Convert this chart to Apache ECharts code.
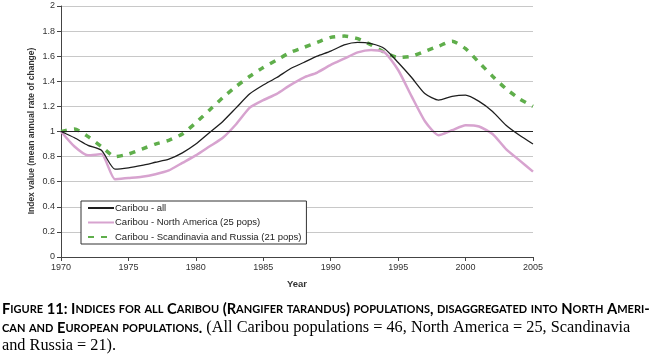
<!DOCTYPE html>
<html><head><meta charset="utf-8">
<script src="https://cdn.jsdelivr.net/npm/echarts@6/dist/echarts.min.js"></script>
<style>html,body{margin:0;padding:0;background:#fff}#c{width:653px;height:357px}</style>
</head><body><div id="c"></div>
<script>
const years = [1970,1971,1972,1973,1974,1975,1976,1977,1978,1979,1980,1981,1982,1983,1984,1985,1986,1987,1988,1989,1990,1991,1992,1993,1994,1995,1996,1997,1998,1999,2000,2001,2002,2003,2004,2005];
const caribouAll = [1.0,0.95,0.89,0.85,0.70,0.71,0.73,0.755,0.78,0.83,0.90,0.99,1.08,1.19,1.30,1.37,1.43,1.50,1.55,1.60,1.64,1.69,1.71,1.70,1.66,1.55,1.43,1.30,1.25,1.28,1.29,1.24,1.16,1.05,0.97,0.90];
const caribouNA = [1.0,0.88,0.81,0.82,0.62,0.63,0.64,0.66,0.69,0.75,0.81,0.88,0.95,1.06,1.19,1.25,1.30,1.37,1.43,1.47,1.53,1.58,1.63,1.65,1.63,1.49,1.28,1.08,0.97,1.01,1.05,1.04,0.98,0.86,0.77,0.68];
const caribouSR = [1.0,1.02,0.96,0.88,0.80,0.82,0.86,0.90,0.93,0.98,1.07,1.17,1.27,1.36,1.44,1.51,1.57,1.63,1.67,1.71,1.75,1.76,1.74,1.69,1.63,1.59,1.60,1.64,1.68,1.72,1.66,1.55,1.44,1.34,1.26,1.20];
const seriesNames = ['Caribou - all','Caribou - North America (25 pops)','Caribou - Scandinavia and Russia (21 pops)'];
const xTitle = 'Year';
const yTitle = 'Index value (mean annual rate of change)';
const capLine1 = 'Figure 11: Indices for all Caribou (Rangifer tarandus) populations, disaggregated into North Ameri-';
const capLine2a = 'can and European populations.';
const capLine2b = ' (All Caribou populations = 46, North America = 25, Scandinavia';
const capLine3 = 'and Russia = 21).';

function pairs(v){ return years.map((y,i)=>[y,v[i]]); }
function smallCaps(s){
  let out='', cur=null, buf='';
  for (const ch of s){
    const isLower = ch !== ch.toUpperCase();
    const t = isLower ? 'sm' : 'bg';
    const c = isLower ? ch.toUpperCase() : ch;
    if (t!==cur){ if(buf) out += '{'+cur+'|'+buf+'}'; buf=''; cur=t; }
    buf += c;
  }
  if(buf) out += '{'+cur+'|'+buf+'}';
  return out;
}
const capRich = {
  bg:{fontFamily:'Lato',fontWeight:'bold',fontSize:14.7,color:'#231f20',lineHeight:18},
  sm:{fontFamily:'Lato',fontWeight:'bold',fontSize:11,color:'#231f20',lineHeight:18},
  sf:{fontFamily:'Liberation Serif',fontSize:16.3,color:'#231f20',lineHeight:18}
};

const chart = echarts.init(document.getElementById('c'), null, {renderer:'canvas'});
const axisFont = {fontFamily:'Liberation Sans', fontSize:9, color:'#333'};
chart.setOption({
  animation:false,
  grid:{left:61,right:120,top:6,bottom:100},
  legend:{
    orient:'vertical', left:81, top:201, padding:[2,5,2,6],
    borderColor:'#333', borderWidth:1, backgroundColor:'#fff',
    itemWidth:26, itemHeight:10, itemGap:4.5,
    itemStyle:{opacity:0},
    textStyle:{fontFamily:'Liberation Sans', fontSize:9.5, color:'#222', padding:[0,0,0,-4]},
    data:seriesNames
  },
  xAxis:{
    type:'value', min:1970, max:2005, interval:5,
    name:xTitle, nameLocation:'middle', nameGap:22,
    nameTextStyle:{fontFamily:'Liberation Sans', fontSize:9.5, fontWeight:'bold', color:'#333'},
    axisLine:{lineStyle:{color:'#444',width:1}},
    axisTick:{show:true,length:4,lineStyle:{color:'#444'}},
    axisLabel:Object.assign({margin:6, formatter:v=>String(v)}, axisFont),
    splitLine:{show:false}
  },
  yAxis:{
    type:'value', min:0, max:2, interval:0.2,
    axisLine:{show:true,lineStyle:{color:'#444',width:1}},
    axisTick:{show:true,length:4,lineStyle:{color:'#444'}},
    axisLabel:Object.assign({margin:6, formatter:v=>String(Math.round(v*10)/10)}, axisFont),
    splitLine:{show:true,lineStyle:{color:'#c8c8c8',width:1}}
  },
  series:[
    {name:seriesNames[0], type:'line', data:pairs(caribouAll), symbol:'none', smooth:0.2,
     lineStyle:{color:'#1e1e1e',width:1.3}, itemStyle:{color:'#1e1e1e'}, z:4,
     markLine:{silent:true, symbol:'none', label:{show:false}, lineStyle:{color:'#222',type:'solid',width:1}, data:[{yAxis:1}]}},
    {name:seriesNames[1], type:'line', data:pairs(caribouNA), symbol:'none', smooth:0.2,
     lineStyle:{color:'#d7a3cf',width:2.5}, itemStyle:{color:'#d7a3cf'}, z:3},
    {name:seriesNames[2], type:'line', data:pairs(caribouSR), symbol:'none', smooth:0.2,
     lineStyle:{color:'#5fae4b',width:3.5,type:[6,7]}, itemStyle:{color:'#5fae4b'}, z:2}
  ],
  graphic:[
    {type:'text', x:32, y:131, rotation:Math.PI/2,
     style:{text:yTitle, fontFamily:'Liberation Sans', fontSize:8.5, fontWeight:'bold', fill:'#333', align:'center', verticalAlign:'middle'}},
    {type:'text', left:2, top:302, style:{text:smallCaps(capLine1), rich:capRich}},
    {type:'text', left:2, top:320, style:{text:smallCaps(capLine2a)+'{sf|'+capLine2b+'}', rich:capRich}},
    {type:'text', left:2, top:338, style:{text:'{sf|'+capLine3+'}', rich:capRich}}
  ]
});
</script></body></html>
